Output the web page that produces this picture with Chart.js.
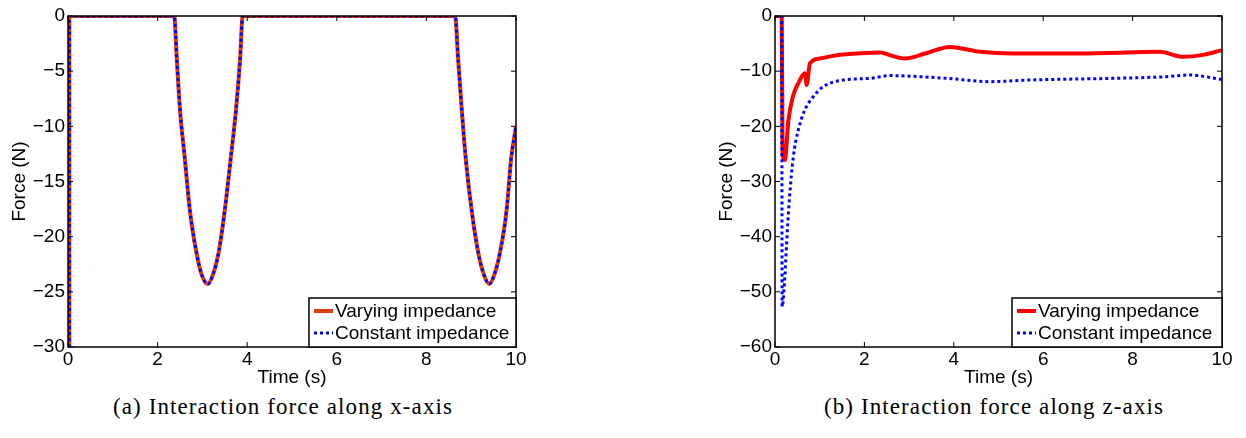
<!DOCTYPE html>
<html>
<head>
<meta charset="utf-8">
<script src="https://cdn.jsdelivr.net/npm/chart.js@4/dist/chart.umd.min.js"></script>
<style>
  body { margin: 0; background: #fff; width: 1246px; height: 438px; position: relative; overflow: hidden; }
  canvas { position: absolute; top: 0; }
  #cx { left: 0; }
  #cz { left: 700px; }
  .cap { position: absolute; top: 394px; font-family: "Liberation Serif", serif; font-size: 23px; letter-spacing: 1.1px; color: #000; text-align: center; width: 500px; }
</style>
</head>
<body>
<canvas id="cx" width="560" height="390"></canvas>
<canvas id="cz" width="546" height="390"></canvas>
<div class="cap" style="left:33px">(a) Interaction force along x-axis</div>
<div class="cap" style="left:744px">(b) Interaction force along z-axis</div>
<script>
// Force le long de x (les deux courbes se superposent)
const xTime = [0.03, 0.03, 2.37, 2.43, 2.50, 2.61, 2.72, 2.87, 2.98, 3.12, 3.24, 3.36, 3.50, 3.63, 3.75, 3.84, 3.90,
               8.64, 8.71, 8.79, 8.88, 9.01, 9.16, 9.28, 9.40, 9.52, 9.64, 9.79, 9.89, 10.0];
const xVarying = [-30, 0, 0, -4, -8.5, -13, -17.6, -21.5, -23.4, -24.3, -23.4, -21.5, -17.6, -13, -8.5, -4, 0,
                  0, -4, -8.5, -13, -17.6, -21.5, -23.4, -24.3, -23.4, -21.5, -17.6, -13, -10];
const xConstant = [-30, 0, 0, -4, -8.5, -13, -17.6, -21.5, -23.4, -24.3, -23.4, -21.5, -17.6, -13, -8.5, -4, 0,
                   0, -4, -8.5, -13, -17.6, -21.5, -23.4, -24.3, -23.4, -21.5, -17.6, -13, -10];

// Force le long de z
const zTimeVarying = [0, 0.15, 0.17, 0.22, 0.30, 0.40, 0.52, 0.67, 0.71, 0.78, 1.0, 1.38, 1.83, 2.35, 2.57, 2.91,
                      3.4, 3.91, 4.59, 5.33, 6.82, 8.61, 9.13, 9.6, 10];
const zVarying = [0, 0, -25, -26.1, -18.9, -14.6, -12.2, -10.4, -12.5, -8.6, -7.7, -7.1, -6.8, -6.6, -7.1, -7.7,
                  -6.7, -5.6, -6.5, -6.8, -6.8, -6.5, -7.4, -7.0, -6.2];
const zTimeConstant = [0, 0.15, 0.16, 0.22, 0.26, 0.32, 0.41, 0.52, 0.67, 0.86, 1.08, 1.53, 2.13, 2.57, 3.0,
                       3.84, 4.81, 5.70, 7.57, 8.76, 9.28, 10];
const zConstant = [0, 0, -52.7, -47.3, -41.2, -33.4, -25.5, -20.7, -17.0, -14.6, -12.8, -11.6, -11.3, -10.8, -10.9,
                   -11.3, -11.9, -11.6, -11.3, -11.0, -10.7, -11.5];

const timeTicks = [0, 2, 4, 6, 8, 10];
const seriesNames = ['Varying impedance', 'Constant impedance'];

const font = { family: '"Liberation Sans", Arial, sans-serif', size: 19 };
const pts = (t, v) => t.map((x, i) => ({ x: x, y: v[i] }));
const minus = v => String(v).replace('-', '\u2212');

// cadre, graduations vers l'intérieur et légende façon MATLAB
const boxTicks = {
  id: 'boxTicks',
  afterDraw(chart, args, opts) {
    const { ctx, chartArea: a, scales: { x, y } } = chart;
    ctx.save();
    ctx.strokeStyle = '#000';
    ctx.lineWidth = 1.5;
    ctx.strokeRect(a.left, a.top, a.right - a.left, a.bottom - a.top);
    ctx.lineWidth = 1;
    ctx.beginPath();
    x.ticks.forEach(t => {
      const p = x.getPixelForValue(t.value);
      ctx.moveTo(p, a.bottom); ctx.lineTo(p, a.bottom - 5);
      ctx.moveTo(p, a.top); ctx.lineTo(p, a.top + 5);
    });
    y.ticks.forEach(t => {
      const p = y.getPixelForValue(t.value);
      ctx.moveTo(a.left, p); ctx.lineTo(a.left + 5, p);
      ctx.moveTo(a.right, p); ctx.lineTo(a.right - 5, p);
    });
    ctx.stroke();

    // légende
    const w = opts.width, h = 49;
    const lx = a.right - w, ly = a.bottom - h;
    ctx.fillStyle = '#fff';
    ctx.fillRect(lx, ly, w, h);
    ctx.lineWidth = 1.5;
    ctx.strokeRect(lx, ly, w, h);
    ctx.font = '19px "Liberation Sans", Arial, sans-serif';
    ctx.textBaseline = 'middle';
    ctx.fillStyle = '#000';
    chart.data.datasets.forEach((ds, i) => {
      const ry = ly + 13 + i * 22;
      ctx.beginPath();
      ctx.strokeStyle = ds.borderColor;
      ctx.lineWidth = ds.borderWidth;
      ctx.setLineDash(ds.borderDash || []);
      ctx.moveTo(lx + 5, ry); ctx.lineTo(lx + 24, ry);
      ctx.stroke();
      ctx.setLineDash([]);
      ctx.fillText(ds.label, lx + 26, ry + 1);
    });
    ctx.restore();
  }
};

function makeChart(id, datasets, yMin, yStep, yWidth, titlePad, legendWidth, padRight) {
  return new Chart(document.getElementById(id), {
    type: 'line',
    data: { datasets: datasets },
    options: {
      responsive: false,
      animation: false,
      devicePixelRatio: 1,
      layout: { padding: { top: 16, right: padRight, left: 0, bottom: 0 } },
      elements: { point: { radius: 0 }, line: { tension: 0, cubicInterpolationMode: 'monotone' } },
      plugins: { legend: { display: false }, tooltip: { enabled: false }, boxTicks: { width: legendWidth } },
      scales: {
        x: {
          type: 'linear', min: 0, max: 10,
          afterBuildTicks: s => { s.ticks = timeTicks.map(v => ({ value: v })); },
          afterFit: s => { s.height = 43; },
          ticks: { font: font, color: '#000', padding: 1, maxRotation: 0 },
          grid: { display: false, drawTicks: false },
          border: { display: false },
          title: { display: true, text: 'Time (s)', font: font, color: '#000', padding: { top: 0, bottom: 1 } }
        },
        y: {
          min: yMin, max: 0,
          afterFit: s => { s.width = yWidth; },
          ticks: { stepSize: yStep, font: font, color: '#000', padding: 3, callback: minus },
          grid: { display: false, drawTicks: false },
          border: { display: false },
          title: { display: true, text: 'Force (N)', font: font, color: '#000', padding: { top: titlePad, bottom: 0 } }
        }
      }
    },
    plugins: [boxTicks]
  });
}

makeChart('cx', [
  { label: seriesNames[0], data: pts(xTime, xVarying), borderColor: '#dc3c14', borderWidth: 4, order: 1 },
  { label: seriesNames[1], data: pts(xTime, xConstant), borderColor: '#0000ff', borderWidth: 3, borderDash: [3, 3], order: 0 }
], -30, 5, 68, 8, 207, 44);

makeChart('cz', [
  { label: seriesNames[0], data: pts(zTimeVarying, zVarying), borderColor: '#ff0000', borderWidth: 4, order: 1 },
  { label: seriesNames[1], data: pts(zTimeConstant, zConstant), borderColor: '#0000ff', borderWidth: 3, borderDash: [3, 3], order: 0 }
], -60, 10, 75, 15, 210, 24);
</script>
</body>
</html>
